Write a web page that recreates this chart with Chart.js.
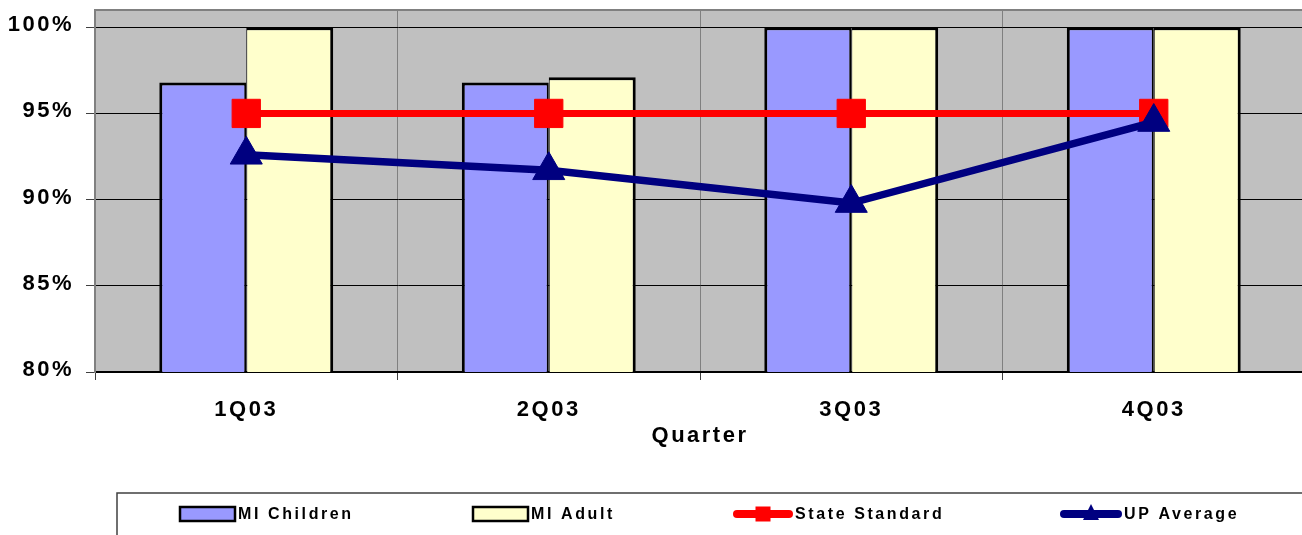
<!DOCTYPE html>
<html>
<head>
<meta charset="utf-8">
<script src="https://cdn.jsdelivr.net/npm/chart.js@4/dist/chart.umd.min.js"></script>
<style>
  html, body { margin: 0; padding: 0; background: #fff; overflow: hidden; }
  #wrap { width: 1310px; height: 535px; }
</style>
</head>
<body>
<div id="wrap"><canvas id="c" width="1310" height="535"></canvas></div>
<script>
// Quarterly rates (percent)
const quarters = ['1Q03', '2Q03', '3Q03', '4Q03'];
const miChildren = [96.8, 96.8, 100, 100];
const miAdult = [100, 97.1, 100, 100];
const stateStandard = [95, 95, 95, 95];
const upAverage = [92.6, 91.7, 89.8, 94.5];
const yTickValues = [80, 85, 90, 95, 100];
const axisTitle = 'Quarter';

const FONT = "'Liberation Sans', Arial, sans-serif";

// Grey plot background and frame
const plotBackground = {
  id: 'plotBackground',
  beforeDraw(chart) {
    const { ctx, chartArea: a } = chart;
    ctx.letterSpacing = '2.5px';
    ctx.save();
    ctx.fillStyle = '#C0C0C0';
    ctx.fillRect(a.left, a.top, a.right - a.left, a.bottom - a.top);
    ctx.strokeStyle = '#808080';
    ctx.lineWidth = 2;
    ctx.strokeRect(a.left, a.top, a.right - a.left, a.bottom - a.top);
    ctx.restore();
  }
};

// Boxed legend row under the axis title
const boxedLegend = {
  id: 'boxedLegend',
  afterDraw(chart) {
    const ctx = chart.ctx;
    const ds = chart.data.datasets;
    const slots = [
      { x: 180, w: 55, tx: 238 },
      { x: 473, w: 55, tx: 531 },
      { x: 733, w: 60, tx: 795 },
      { x: 1060, w: 62, tx: 1124 }
    ];
    const cy = 514;
    ctx.save();
    ctx.strokeStyle = '#404040';
    ctx.lineWidth = 1.5;
    ctx.strokeRect(117, 493, 1190, 60);
    ctx.font = 'bold 16px ' + FONT;
    ctx.letterSpacing = '2.6px';
    ctx.textBaseline = 'middle';
    ctx.textAlign = 'left';
    ds.forEach((d, i) => {
      const s = slots[i];
      if (d.type === 'bar') {
        ctx.fillStyle = d.backgroundColor;
        ctx.fillRect(s.x, cy - 7, s.w, 14);
        ctx.strokeStyle = '#000';
        ctx.lineWidth = 2.5;
        ctx.strokeRect(s.x, cy - 7, s.w, 14);
      } else {
        ctx.strokeStyle = d.borderColor;
        ctx.lineWidth = 8;
        ctx.lineCap = 'round';
        ctx.beginPath();
        ctx.moveTo(s.x + 4, cy);
        ctx.lineTo(s.x + s.w - 4, cy);
        ctx.stroke();
        ctx.fillStyle = d.pointBackgroundColor;
        const mx = s.x + s.w / 2;
        if (d.pointStyle === 'rect') {
          ctx.fillRect(mx - 7.5, cy - 7.5, 15, 15);
        } else {
          ctx.beginPath();
          ctx.moveTo(mx, cy - 10);
          ctx.lineTo(mx + 8, cy + 6);
          ctx.lineTo(mx - 8, cy + 6);
          ctx.closePath();
          ctx.fill();
        }
      }
      ctx.fillStyle = '#000';
      ctx.fillText(d.label, s.tx, cy + 1);
    });
    ctx.restore();
  }
};

new Chart(document.getElementById('c'), {
  data: {
    labels: quarters,
    datasets: [
      {
        type: 'bar',
        label: 'MI Children',
        data: miChildren,
        backgroundColor: '#9999FF',
        borderColor: '#000',
        borderWidth: { left: 3, top: 3, right: 2, bottom: 0 },
        borderSkipped: false,
        categoryPercentage: 0.575,
        barPercentage: 1,
        order: 2
      },
      {
        type: 'bar',
        label: 'MI Adult',
        data: miAdult,
        backgroundColor: '#FFFFCC',
        borderColor: '#000',
        borderWidth: { left: 1, top: 3, right: 3, bottom: 0 },
        borderSkipped: false,
        categoryPercentage: 0.575,
        barPercentage: 1,
        order: 2
      },
      {
        type: 'line',
        label: 'State Standard',
        data: stateStandard,
        borderColor: '#FF0000',
        borderWidth: 7,
        pointStyle: 'rect',
        pointRadius: 20,
        pointBackgroundColor: '#FF0000',
        pointBorderColor: '#FF0000',
        pointBorderWidth: 1,
        tension: 0,
        order: 1
      },
      {
        type: 'line',
        label: 'UP Average',
        data: upAverage,
        borderColor: '#000080',
        borderWidth: 7.5,
        pointStyle: 'triangle',
        pointRadius: 18.5,
        pointBackgroundColor: '#000080',
        pointBorderColor: '#000080',
        pointBorderWidth: 1,
        tension: 0,
        order: 0
      }
    ]
  },
  options: {
    responsive: false,
    devicePixelRatio: 1,
    animation: false,
    layout: { autoPadding: false, padding: { left: 0, right: 5, top: 10, bottom: 85 } },
    plugins: {
      legend: { display: false },
      tooltip: { enabled: false }
    },
    scales: {
      x: {
        grid: {
          offset: true,
          color: '#808080',
          lineWidth: 1,
          tickLength: 8,
          tickColor: '#404040'
        },
        border: { color: '#000', width: 2 },
        ticks: {
          color: '#000',
          font: { family: FONT, size: 22, weight: 'bold' },
          padding: 17,
          maxRotation: 0
        },
        title: {
          display: true,
          text: axisTitle,
          color: '#000',
          font: { family: FONT, size: 22, weight: 'bold' },
          padding: { top: 0, bottom: 1 }
        },
        afterFit(scale) {
          scale.height = 78;
          scale.paddingLeft = 0;
          scale.paddingRight = 0;
        }
      },
      y: {
        min: 80,
        max: 101,
        grid: {
          color: '#000',
          lineWidth: 1,
          tickLength: 9,
          tickColor: '#404040'
        },
        border: { color: '#808080', width: 2 },
        ticks: {
          color: '#000',
          font: { family: FONT, size: 22, weight: 'bold' },
          padding: 12,
          labelOffset: -2,
          callback: v => v + '%'
        },
        afterBuildTicks(scale) {
          scale.ticks = yTickValues.map(v => ({ value: v }));
        },
        afterFit(scale) {
          scale.width = 95;
          scale.paddingTop = 0;
          scale.paddingBottom = 0;
        }
      }
    }
  },
  plugins: [plotBackground, boxedLegend]
});
</script>
</body>
</html>
